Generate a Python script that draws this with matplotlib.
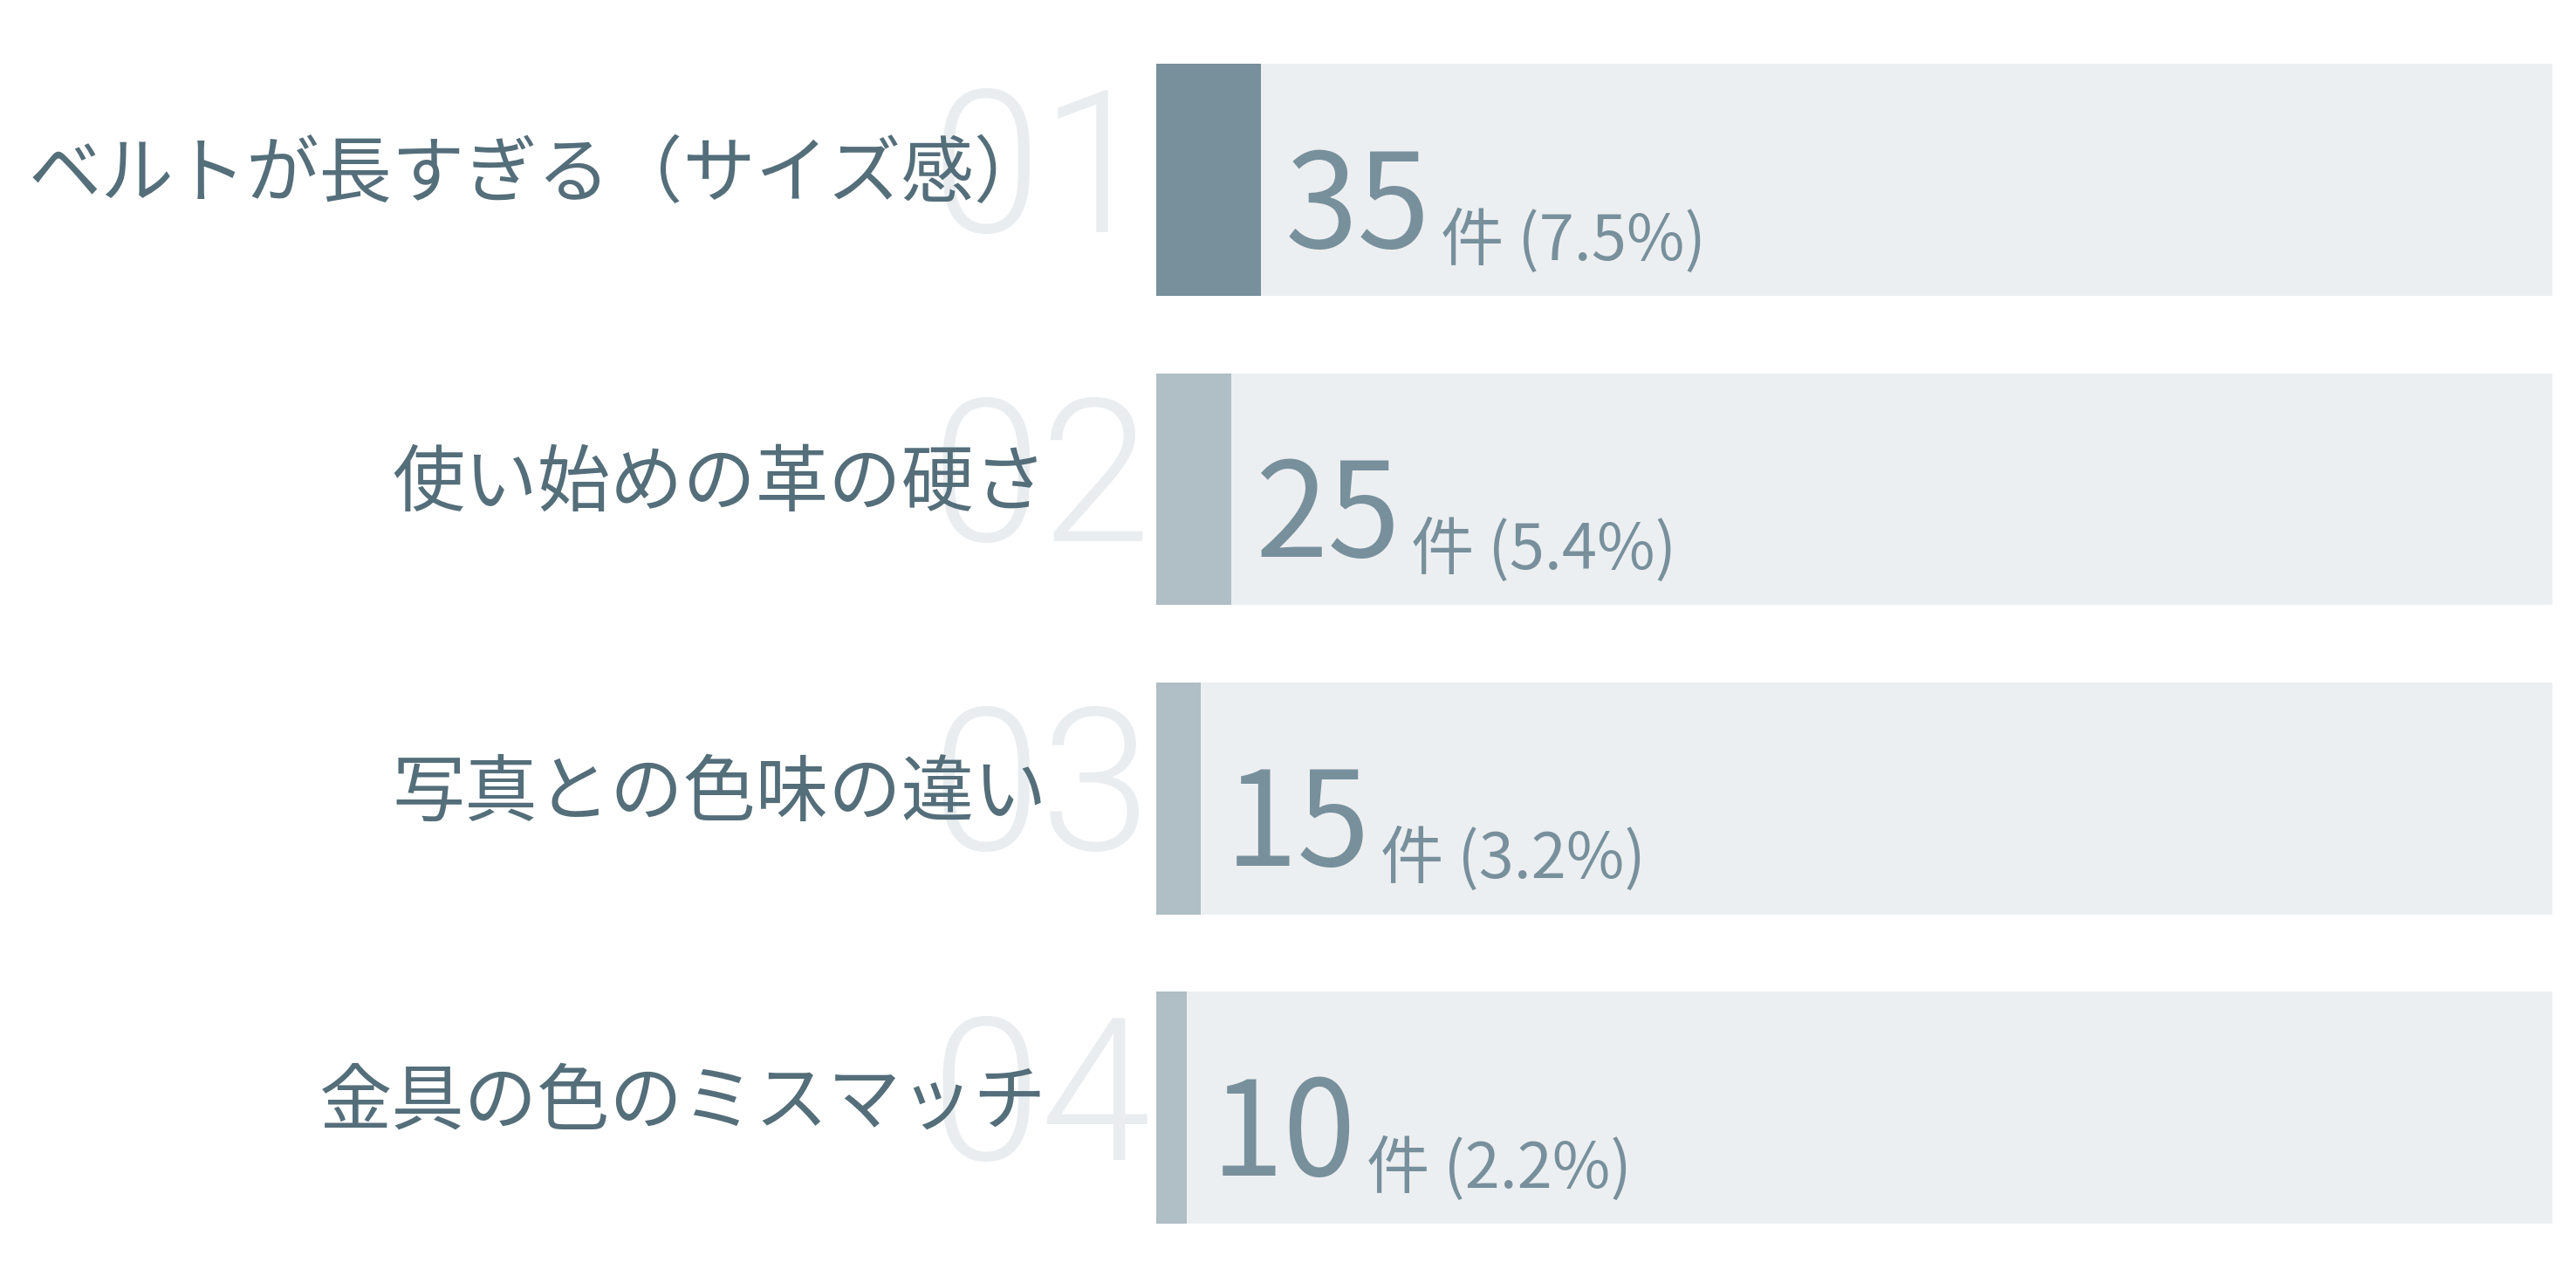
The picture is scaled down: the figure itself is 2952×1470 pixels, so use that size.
import matplotlib.pyplot as plt

labels = ['ベルトが長すぎる（サイズ感）', '使い始めの革の硬さ', '写真との色味の違い', '金具の色のミスマッチ']
ranks = ['01', '02', '03', '04']
counts = [35, 25, 15, 10]
shares = [7.5, 5.4, 3.2, 2.2]

plt.rcParams['font.family'] = ['Noto Sans CJK JP', 'DejaVu Sans']

fig = plt.figure(figsize=(14.76, 7.35), dpi=200)
ax = fig.add_axes([1325 / 2952, 0.0163, 1600 / 2952, 0.9639])

y = list(range(len(labels)))
# トラック（100%）と実際の割合
ax.barh(y, [100] * len(y), height=0.75, color='#ECEFF1', zorder=1)
bar_colors = ['#78909C'] + ['#B0BEC5'] * (len(y) - 1)
ax.barh(y, shares, height=0.75, color=bar_colors, zorder=2)
ax.set_xlim(0, 100)
ax.set_ylim(len(y) - 0.5, -0.5)
ax.axis('off')

for i in y:
    # 背景の大きな番号
    ax.annotate(ranks[i], xy=(0, i), xytext=(-2, -21.5), textcoords='offset points',
                fontsize=82, color='#E9EDF0', ha='right', va='baseline',
                family=['Roboto', 'DejaVu Sans'], fontweight=300,
                zorder=0.5, annotation_clip=False)
    # 項目名
    ax.annotate(labels[i], xy=(0, i), xytext=(-45, 2), textcoords='offset points',
                fontsize=30, color='#546E7A', ha='right', va='center',
                zorder=3, annotation_clip=False)
    # 件数と割合
    big = ax.annotate(str(counts[i]), xy=(shares[i], i), xytext=(10, -28),
                      textcoords='offset points', fontsize=54, color='#78909C',
                      ha='left', va='baseline', zorder=4)
    ax.annotate(f'件 ({shares[i]}%)', xy=(1, i), xycoords=(big, 'data'),
                xytext=(4, -33), textcoords='offset points', fontsize=26,
                color='#78909C', ha='left', va='baseline', zorder=4)

fig.savefig('out.png', dpi=200)
